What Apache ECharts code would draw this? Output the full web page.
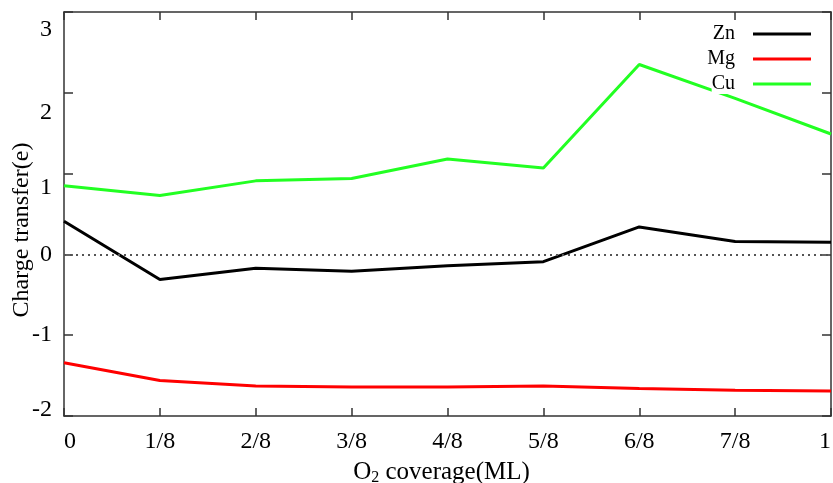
<!DOCTYPE html>
<html>
<head>
<meta charset="utf-8">
<script src="https://cdn.jsdelivr.net/npm/echarts@6/dist/echarts.min.js"></script>
<style>html,body{margin:0;padding:0;background:#fff}#c{width:833px;height:483px}</style>
</head>
<body>
<div id="c"></div>
<script>
const categories = ['0','1/8','2/8','3/8','4/8','5/8','6/8','7/8','1'];
const zn = [0.41,-0.31,-0.17,-0.21,-0.14,-0.09,0.34,0.16,0.15];
const mg = [-1.34,-1.56,-1.63,-1.64,-1.64,-1.63,-1.66,-1.68,-1.69];
const cu = [0.85,0.73,0.91,0.94,1.18,1.07,2.35,1.93,1.49];
const seriesNames = ['Zn','Mg','Cu'];
const seriesColors = ['#000000','#ff0000','#22ff22'];
const yMin = -2, yMax = 3, yStep = 1;

const FONT = 'Liberation Serif';
const axisLineStyle = {color:'#333', width:1.5};
const lbl = {fontFamily:FONT, fontSize:24, color:'#000'};
const chart = echarts.init(document.getElementById('c'));
chart.setOption({
  animation:false,
  backgroundColor:'#fff',
  textStyle:{fontFamily:FONT},
  grid:{left:64, right:2, top:12, bottom:67, containLabel:false, outerBoundsMode:'none'},
  legend:{
    data:seriesNames, orient:'vertical', align:'right', right:17, top:19,
    icon:'rect', itemWidth:58, itemHeight:3, itemGap:5,
    textStyle:{fontFamily:FONT, fontSize:20, color:'#000', lineHeight:20, backgroundColor:'#fff', padding:[0,13,0,0]}
  },
  xAxis:[{
    type:'category', data:categories, boundaryGap:false, position:'bottom',
    axisLine:{onZero:false, lineStyle:axisLineStyle},
    axisTick:{inside:true, length:8, lineStyle:axisLineStyle},
    axisLabel:{fontFamily:FONT, fontSize:24, color:'#000', margin:14, alignMinLabel:'left', alignMaxLabel:'right'},
    name:'{a|O}{s|2}{a| coverage(ML)}', nameLocation:'middle', nameGap:42, nameMoveOverlap:false,
    nameTextStyle:{padding:[0,12,0,0], rich:{a:{fontFamily:FONT,fontSize:25,color:'#000'}, s:{fontFamily:FONT,fontSize:16,color:'#000',padding:[12,0,0,0]}}}
  },{
    type:'category', data:categories, boundaryGap:false, position:'top',
    axisLine:{onZero:false, lineStyle:axisLineStyle},
    axisTick:{inside:true, length:8, lineStyle:axisLineStyle},
    axisLabel:{show:false}
  }],
  yAxis:[{
    type:'value', min:yMin, max:yMax, interval:yStep, position:'left',
    axisLine:{show:true, onZero:false, lineStyle:axisLineStyle},
    axisTick:{show:true, inside:true, length:9, lineStyle:axisLineStyle},
    splitLine:{show:false},
    axisLabel:{margin:12,
      formatter:function(v){
        const key = v===3?'d18':v===2?'d20':v===1?'d14':v===-2?'u6':'n';
        return '{'+key+'|'+v+'}';
      },
      rich:{
        n:lbl,
        d18:Object.assign({padding:[36,0,0,0]},lbl),
        d20:Object.assign({padding:[40,0,0,0]},lbl),
        d14:Object.assign({padding:[28,0,0,0]},lbl),
        u6:Object.assign({padding:[0,0,12,0]},lbl)
      }},
    name:'Charge transfer(e)', nameLocation:'middle', nameGap:30, nameRotate:90, nameMoveOverlap:false,
    nameTextStyle:{fontFamily:FONT, fontSize:24, color:'#000', padding:[0,32,0,0]}
  },{
    type:'value', min:yMin, max:yMax, interval:yStep, position:'right',
    axisLine:{show:true, onZero:false, lineStyle:axisLineStyle},
    axisTick:{show:true, inside:true, length:9, lineStyle:axisLineStyle},
    splitLine:{show:false},
    axisLabel:{show:false}
  }],
  series:[
    {name:seriesNames[0], type:'line', data:zn, symbol:'none', lineStyle:{color:seriesColors[0], width:3}, itemStyle:{color:seriesColors[0]}, z:3,
     markLine:{silent:true, symbol:'none', label:{show:false}, lineStyle:{type:[2,4], color:'#555', width:2}, data:[{yAxis:0}]}},
    {name:seriesNames[1], type:'line', data:mg, symbol:'none', lineStyle:{color:seriesColors[1], width:3}, itemStyle:{color:seriesColors[1]}},
    {name:seriesNames[2], type:'line', data:cu, symbol:'none', lineStyle:{color:seriesColors[2], width:3}, itemStyle:{color:seriesColors[2]}}
  ]
});
</script>
</body>
</html>
